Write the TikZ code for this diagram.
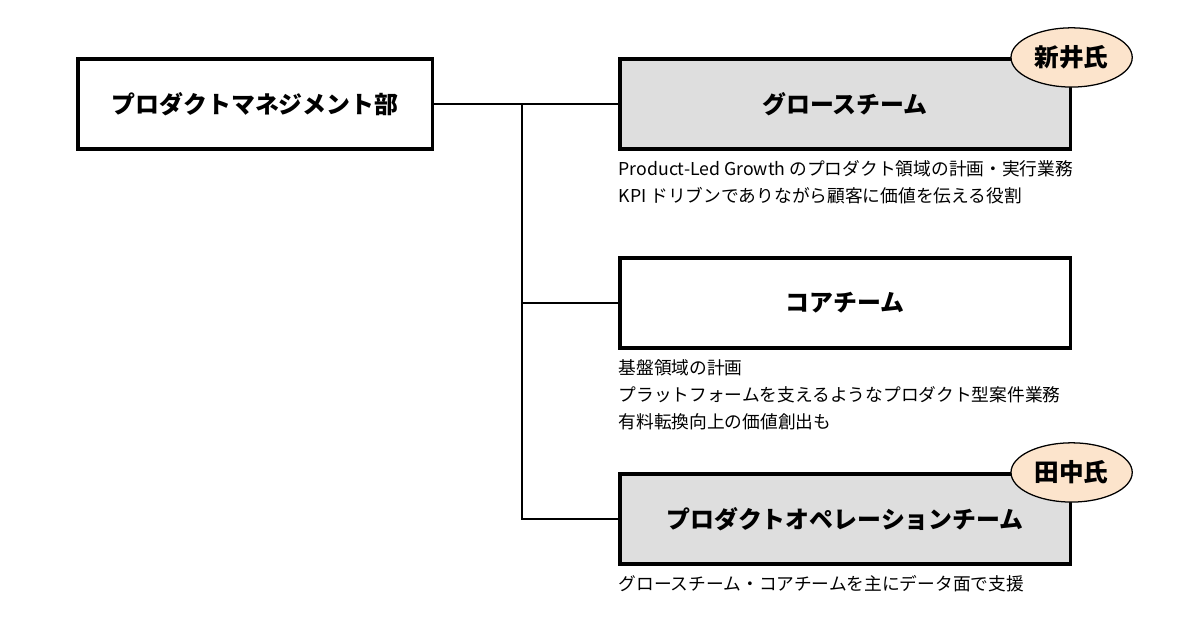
\documentclass[tikz,border=0pt]{standalone}
\usepackage{fontspec}
\setmainfont{Noto Sans CJK JP}
\usetikzlibrary{positioning,shapes.geometric}
\usepackage{xcolor}
\definecolor{TeamGray}{RGB}{222,222,222}
\definecolor{BadgePeach}{RGB}{252,228,204}

\begin{document}
\begin{tikzpicture}[
x=0.025cm,y=-0.025cm,
team/.style={
rectangle,draw=black,line width=2.2pt,fill=white,
minimum width=11.25cm,minimum height=2.25cm,
align=center,font=\fontsize{17}{20}\selectfont\bfseries
},
shaded/.style={fill=TeamGray},
badge/.style={
ellipse,draw=black,line width=0.9pt,fill=BadgePeach,
minimum width=3.03cm,minimum height=1.48cm,inner sep=0pt,
font=\fontsize{17.5}{20}\selectfont\bfseries
},
desc/.style={
anchor=north west,inner sep=0pt,align=left,
font=\fontsize{12.6}{19.2}\selectfont
},
link/.style={line width=0.9pt,draw=black}
]
\useasboundingbox (0,0) rectangle (1200,630);

\node[team,minimum width=8.85cm] (dept) at (255,104) {プロダクトマネジメント部};

\node[team,shaded] (growth) at (845,104) {グロースチーム};
\node[team] (core) at (845,303) {コアチーム};
\node[team,shaded] (ops) at (845,519) {プロダクトオペレーションチーム};

\node[badge] (arai) at (growth.north east) {新井氏};
\node[badge] (tanaka) at (ops.north east) {田中氏};

\node[desc,below=2.5mm of growth.south west,anchor=north west] (gdesc)
{Product-Led Growth のプロダクト領域の計画・実行業務\\
KPI ドリブンでありながら顧客に価値を伝える役割};

\node[desc,below=2.5mm of core.south west,anchor=north west] (cdesc)
{基盤領域の計画\\
プラットフォームを支えるようなプロダクト型案件業務\\
有料転換向上の価値創出も};

\node[desc,below=2.5mm of ops.south west,anchor=north west] (odesc)
{グロースチーム・コアチームを主にデータ面で支援};

\coordinate (fork) at (522,104);

% tree lines
\draw[link] (dept.east) -- (growth.west);
\draw[link] (fork) |- (core.west);
\draw[link] (fork) |- (ops.west);

\end{tikzpicture}
\end{document}
